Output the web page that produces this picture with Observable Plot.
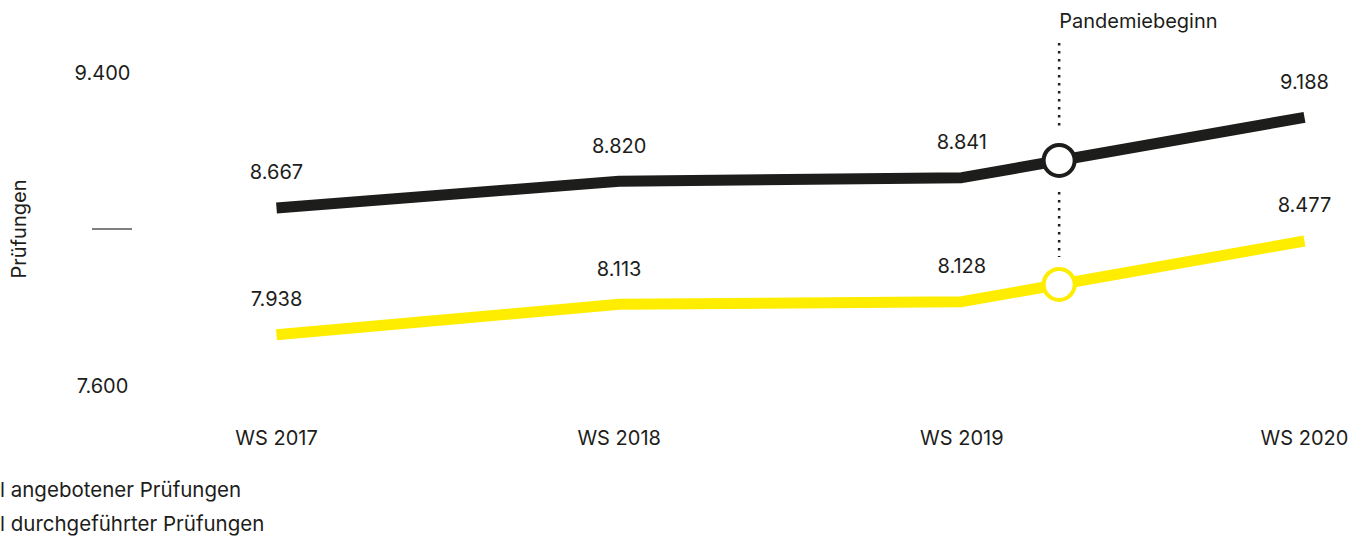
<!DOCTYPE html>
<html>
<head>
<meta charset="utf-8">
<script src="https://cdn.jsdelivr.net/npm/d3@7"></script>
<script src="https://cdn.jsdelivr.net/npm/@observablehq/plot@0.6"></script>
<style>
  html, body { margin: 0; padding: 0; background: #fff; }
  #chart { width: 1365px; overflow: hidden; }
  .legend { font-family: Inter, "Noto Sans", sans-serif; font-size: 20.5px; line-height: 34px; color: #1d1d1b; padding-top: 3px; white-space: nowrap; }
</style>
</head>
<body>
<div id="chart"></div>
<script>
// ---- data ----
const years = [2017, 2018, 2019, 2020];
const yearLabels = ["WS 2017", "WS 2018", "WS 2019", "WS 2020"];
const offered = [8667, 8820, 8841, 9188];     // angebotene Prüfungen
const conducted = [7938, 8113, 8128, 8477];   // durchgeführte Prüfungen
const yTickValues = [9400, 7600];
const yTickLabels = ["9.400", "7.600"];
const yDashTick = [8500];
const yTitle = "Prüfungen";
const pandemicX = [2019.284];
const pandemicValues = [8940, 8227];          // offered, conducted at pandemic start
const pandemicLabel = "Pandemiebeginn";
const legendLabels = ["l angebotener Prüfungen", "l durchgeführter Prüfungen"];

// ---- styling ----
const colors = ["#1d1d1b", "#ffed00"];
const W = 1365, H = 470, mL = 276, mR = 61, mT = 80, mB = 77;
const font = 'Inter, "Noto Sans", sans-serif';
const ink = "#1d1d1b";

const deFormat = d3.formatLocale({decimal: ",", thousands: ".", grouping: [3], currency: ["", "€"]}).format(",d");
const xS = d3.scaleLinear([2017, 2020], [mL, W - mR]);
const yS = d3.scaleLinear([7600, 9400], [H - mB, mT]);

const rowsOffered = years.map((x, i) => ({x, v: offered[i], s: 0}));
const rowsConducted = years.map((x, i) => ({x, v: conducted[i], s: 1}));
const rows = [...rowsOffered, ...rowsConducted];
const pandemicRows = pandemicValues.map((v, s) => ({x: pandemicX[0], v, s}));

// dotted guide segments (pixel gaps around circles)
const yBlackPx = yS(pandemicValues[0]), yYellowPx = yS(pandemicValues[1]);
const guides = [
  {x: pandemicX[0], y1: yS.invert(yS(9400) - 37), y2: yS.invert(yBlackPx - 33)},
  {x: pandemicX[0], y1: yS.invert(yBlackPx + 32), y2: yS.invert(yYellowPx - 27)}
];

const chart = Plot.plot({
  width: W, height: H,
  marginLeft: mL, marginRight: mR, marginTop: mT, marginBottom: mB,
  x: {domain: [2017, 2020], axis: null},
  y: {domain: [7600, 9400], axis: null},
  color: {type: "identity"},
  style: {fontFamily: font, color: ink, background: "#fff", overflow: "visible"},
  marks: [
    // y axis labels
    Plot.text(yTickValues, {y: d => d, frameAnchor: "left", dx: 102 - mL, dy: -7, textAnchor: "middle", lineAnchor: "middle",
      text: (d, i) => yTickLabels[i], fontSize: 20, fill: ink}),
    Plot.ruleY(yDashTick, {y: d => d, x1: xS.invert(92), x2: xS.invert(132), dy: -8, stroke: "#555", strokeWidth: 1.5}),
    Plot.text(yDashTick, {y: d => d, frameAnchor: "left", dx: 19 - mL, dy: -8, rotate: -90, textAnchor: "middle", lineAnchor: "middle",
      text: () => yTitle, fontSize: 20, fill: ink}),
    // x axis labels
    Plot.text(years, {x: d => d, frameAnchor: "bottom", dy: 45, lineAnchor: "middle", text: (d, i) => yearLabels[i], fontSize: 20, fill: ink}),
    // lines
    Plot.line(rowsConducted, {x: "x", y: "v", stroke: colors[1], strokeWidth: 11, strokeLinejoin: "round", strokeLinecap: "butt"}),
    Plot.line(rowsOffered, {x: "x", y: "v", stroke: colors[0], strokeWidth: 11, strokeLinejoin: "round", strokeLinecap: "butt"}),
    // pandemic guide
    Plot.ruleX(guides, {x: "x", y1: "y1", y2: "y2", stroke: ink, strokeWidth: 2.5, strokeDasharray: "2.5 5.5"}),
    Plot.dot(pandemicRows, {x: "x", y: "v", r: 15.5, fill: "#fff", stroke: d => colors[d.s], strokeWidth: 4}),
    Plot.text(pandemicX, {x: d => d, y: () => 9400, dy: -59, textAnchor: "start", lineAnchor: "middle",
      text: () => pandemicLabel, fontSize: 20, fill: ink}),
    // value labels
    Plot.text(rows, {x: "x", y: "v", dy: -35, lineAnchor: "middle", text: d => deFormat(d.v), fontSize: 20, fill: ink})
  ]
});
document.getElementById("chart").appendChild(chart);

const legend = document.createElement("div");
legend.className = "legend";
legendLabels.forEach(t => { const d = document.createElement("div"); d.textContent = t; legend.appendChild(d); });
document.getElementById("chart").appendChild(legend);
</script>
</body>
</html>
